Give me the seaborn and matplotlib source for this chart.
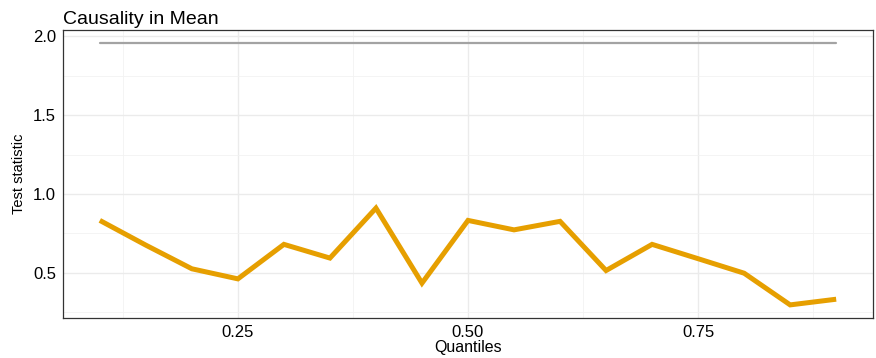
import numpy as np
import pandas as pd
import matplotlib
matplotlib.use("Agg")
import matplotlib.pyplot as plt
from matplotlib.ticker import FixedLocator
import seaborn as sns

# Quantile grid and test statistics
quantiles = [0.10, 0.15, 0.20, 0.25, 0.30, 0.35, 0.40, 0.45, 0.50,
             0.55, 0.60, 0.65, 0.70, 0.75, 0.80, 0.85, 0.90]
test_stat = [0.832, 0.675, 0.525, 0.461, 0.680, 0.593, 0.910, 0.434, 0.832,
             0.772, 0.826, 0.514, 0.680, 0.589, 0.497, 0.296, 0.332]
critical_value = 1.96

x_ticks = [0.25, 0.50, 0.75]
x_tick_labels = ["0.25", "0.50", "0.75"]
y_ticks = [0.5, 1.0, 1.5, 2.0]
y_tick_labels = ["0.5", "1.0", "1.5", "2.0"]

df = pd.DataFrame({"Quantiles": quantiles, "Test statistic": test_stat})
df_cv = pd.DataFrame({"Quantiles": quantiles, "cv": [critical_value] * len(quantiles)})

sns.set_theme(style="white")
plt.rcParams["font.family"] = ["Liberation Sans", "DejaVu Sans"]

fig = plt.figure(figsize=(8.76, 3.58), dpi=100)
ax = fig.add_axes([63 / 876, 40 / 358, 810 / 876, 288.5 / 358])

sns.lineplot(data=df_cv, x="Quantiles", y="cv", ax=ax, color="#A3A3A3",
             linewidth=1.6, estimator=None)
sns.lineplot(data=df, x="Quantiles", y="Test statistic", ax=ax, color="#E69F00",
             linewidth=3.6, estimator=None, solid_joinstyle="miter",
             solid_capstyle="butt")

# ggplot-style expanded limits
lo = min(test_stat + [critical_value])
hi = max(test_stat + [critical_value])
pad = (hi - lo) * 0.05
ax.set_ylim(lo - pad, hi + pad)
xpad = (max(quantiles) - min(quantiles)) * 0.05
ax.set_xlim(min(quantiles) - xpad, max(quantiles) + xpad)

ax.xaxis.set_major_locator(FixedLocator(x_ticks))
ax.xaxis.set_minor_locator(FixedLocator([0.125, 0.375, 0.625, 0.875]))
ax.yaxis.set_major_locator(FixedLocator(y_ticks))
ax.yaxis.set_minor_locator(FixedLocator([0.25, 0.75, 1.25, 1.75]))
ax.set_xticklabels(x_tick_labels)
ax.set_yticklabels(y_tick_labels)

ax.grid(which="major", color="#EBEBEB", linewidth=1.0)
ax.grid(which="minor", color="#F2F2F2", linewidth=0.6)
ax.set_axisbelow(True)

for s in ax.spines.values():
    s.set_color("#333333")
    s.set_linewidth(0.9)

ax.tick_params(axis="both", which="major", direction="out", length=3,
               width=0.8, color="#333333", labelsize=12, labelcolor="black",
               pad=2)
ax.tick_params(axis="both", which="minor", length=0)

ax.set_xlabel("Quantiles", fontsize=11.5, labelpad=0, color="black")
ax.set_ylabel("Test statistic", fontsize=10.5, labelpad=5, color="black")
ax.set_title("Causality in Mean", loc="left", fontsize=14, pad=4, color="black")

fig.savefig("out.png", dpi=100)
